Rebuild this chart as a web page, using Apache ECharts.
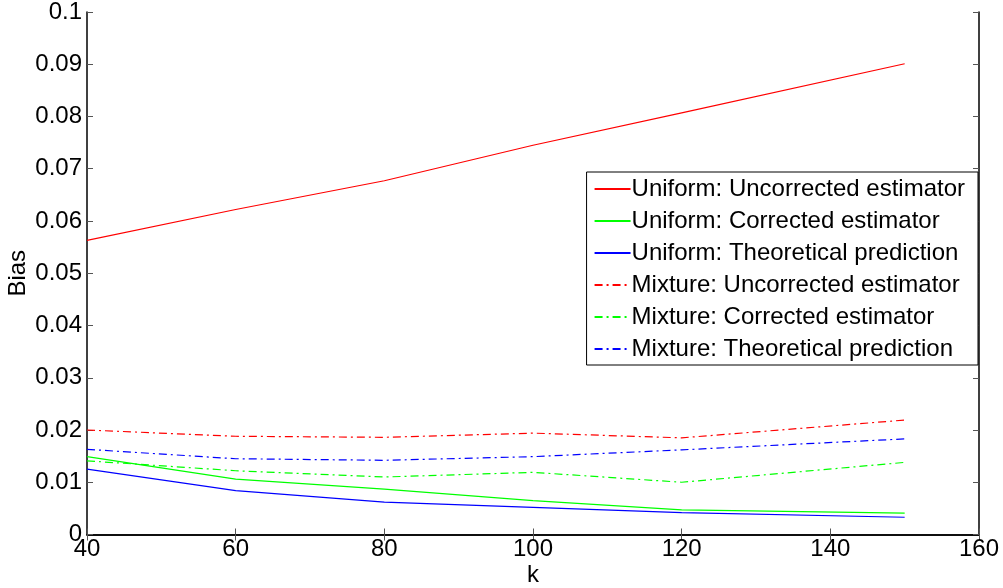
<!DOCTYPE html>
<html><head><meta charset="utf-8">
<script src="https://cdn.jsdelivr.net/npm/echarts@6/dist/echarts.min.js"></script>
<style>html,body{margin:0;padding:0;background:#fff}#c{width:1003px;height:588px}</style>
</head><body><div id="c"></div>
<script>
const kValues = [40, 60, 80, 100, 120, 150];
const uniformUncorrected = [0.0563, 0.0622, 0.0677, 0.0745, 0.0807, 0.0901];
const uniformCorrected = [0.0149, 0.0106, 0.0087, 0.0065, 0.0047, 0.0041];
const uniformTheoretical = [0.0125, 0.0084, 0.0062, 0.0052, 0.0042, 0.0033];
const mixtureUncorrected = [0.0200, 0.0188, 0.0186, 0.0194, 0.0185, 0.0219];
const mixtureCorrected = [0.0141, 0.0122, 0.0110, 0.0119, 0.0100, 0.0138];
const mixtureTheoretical = [0.0163, 0.0145, 0.0142, 0.0149, 0.0162, 0.0183];
const seriesNames = ['Uniform: Uncorrected estimator','Uniform: Corrected estimator','Uniform: Theoretical prediction','Mixture: Uncorrected estimator','Mixture: Corrected estimator','Mixture: Theoretical prediction'];
const seriesData = [uniformUncorrected, uniformCorrected, uniformTheoretical, mixtureUncorrected, mixtureCorrected, mixtureTheoretical];
const colors = ['#ff0000','#00ff00','#0000ff','#ff0000','#00ff00','#0000ff'];
const dashDot = [8,4,2,4];
const font = 'Liberation Sans, Arial, sans-serif';
const chart = echarts.init(document.getElementById('c'));
const axisLineStyle = {color:'#000', width:1.5};
chart.setOption({
  animation:false,
  grid:{left:87, top:12, right:24, bottom:53.5, show:false, outerBoundsMode:'none', containLabel:false},
  legend:{
    orient:'vertical', right:25, top:172,
    backgroundColor:'#fff', borderColor:'#000', borderWidth:1,
    padding:[5,13,4,7], itemWidth:36, itemHeight:12, itemGap:8,
    itemStyle:{opacity:0},
    textStyle:{fontFamily:font, fontSize:24, color:'#000', padding:[0,0,0,-4]},
    data:seriesNames
  },
  xAxis:[{
    type:'value', min:40, max:160, interval:20, position:'bottom',
    name:'k', nameLocation:'middle', nameGap:29, nameMoveOverlap:false, nameTextStyle:{fontFamily:font, fontSize:24, color:'#000'},
    axisLine:{lineStyle:axisLineStyle}, axisTick:{inside:true, length:6, lineStyle:{color:'#555'}},
    axisLabel:{fontFamily:font, fontSize:24, color:'#000', margin:3},
    splitLine:{show:false}
  },{
    type:'value', min:40, max:160, interval:20, position:'top',
    axisLine:{lineStyle:axisLineStyle}, axisTick:{inside:true, length:6, lineStyle:{color:'#555'}},
    axisLabel:{show:false}, splitLine:{show:false}
  }],
  yAxis:[{
    type:'value', min:0, max:0.1, interval:0.01, position:'left',
    name:'Bias', nameLocation:'middle', nameGap:57, nameMoveOverlap:false, nameRotate:90, nameTextStyle:{fontFamily:font, fontSize:24, color:'#000'},
    axisLine:{lineStyle:axisLineStyle}, axisTick:{inside:true, length:6, lineStyle:{color:'#555'}},
    axisLabel:{fontFamily:font, fontSize:24, color:'#000', margin:5, formatter:v=>String(+v.toFixed(2))},
    splitLine:{show:false}
  },{
    type:'value', min:0, max:0.1, interval:0.01, position:'right',
    axisLine:{lineStyle:axisLineStyle}, axisTick:{inside:true, length:6, lineStyle:{color:'#555'}},
    axisLabel:{show:false}, splitLine:{show:false}
  }],
  series: seriesNames.map((n,i)=>({
    name:n, type:'line', symbol:'none', color:colors[i],
    data: kValues.map((k,j)=>[k, seriesData[i][j]]),
    lineStyle:{width:1.2, color:colors[i], type: i<3 ? 'solid' : dashDot}
  }))
});
</script></body></html>
